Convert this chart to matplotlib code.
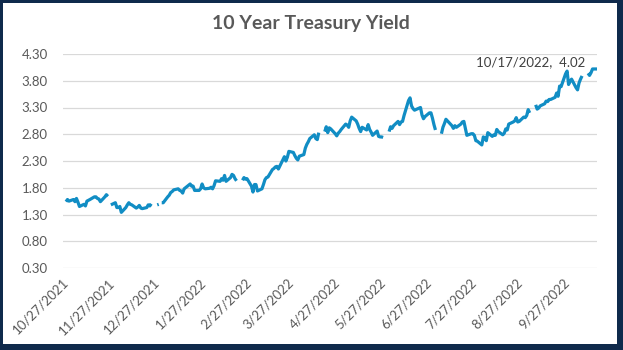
import numpy as np
import pandas as pd
import matplotlib
matplotlib.use("Agg")
import matplotlib.pyplot as plt
from matplotlib.patches import Rectangle

plt.rcParams['font.family'] = ['Lato', 'DejaVu Sans']

# trading days, holidays with no print are left as NaN (breaks the line)
start, end = '2021-10-27', '2022-10-17'
not_listed = ['2021-11-11', '2022-01-17', '2022-06-20']
nan = np.nan

yield_oct21 = [1.54, 1.58, 1.55]
yield_nov21 = [1.58, 1.54, 1.60, 1.53, 1.45,
               1.49, 1.46, 1.55, 1.58,
               1.63, 1.63, 1.60, 1.59, 1.54,
               1.63, 1.67, 1.64, nan, 1.48,
               1.52, 1.43]
yield_dec21 = [1.43, 1.45, 1.34,
               1.43, 1.48, 1.52, 1.49, 1.48,
               1.42, 1.44, 1.47, 1.42, 1.41,
               1.43, 1.48, 1.46, 1.50, nan,
               1.48, 1.49, nan, 1.52, 1.52]
yield_jan22 = [1.63, 1.66, 1.71, 1.73, 1.76,
               1.78, 1.75, 1.74, 1.70, 1.78,
               1.87, 1.83, 1.83, 1.75,
               1.75, 1.78, 1.87, 1.80, 1.78,
               1.79]
yield_feb22 = [1.81, 1.78, 1.84, 1.93,
               1.92, 1.97, 1.94, 2.03, 1.92,
               1.99, 2.05, 2.03, 1.97, 1.93,
               nan, 1.94, 1.99, 1.96, 1.97,
               1.83]
yield_mar22 = [1.72, 1.86, 1.86, 1.74,
               1.78, 1.86, 1.95, 1.99, 2.00,
               2.14, 2.16, 2.19, 2.20, 2.15,
               2.32, 2.38, 2.30, 2.37, 2.48,
               2.46, 2.40, 2.35, 2.32]
yield_apr22 = [2.39,
               2.42, 2.54, 2.61, 2.66, 2.72,
               2.79, 2.72, 2.70, 2.83, nan,
               2.85, 2.94, 2.83, 2.92, 2.90,
               2.81, 2.77, 2.82, 2.85, 2.89]
yield_may22 = [2.99, 2.97, 2.93, 3.05, 3.12,
               3.05, 2.99, 2.91, 2.85, 2.93,
               2.88, 2.98, 2.89, 2.84, 2.78,
               2.86, 2.76, 2.75, 2.75, 2.74,
               nan, 2.85]
yield_jun22 = [2.94, 2.91, 2.96,
               3.04, 2.98, 3.03, 3.04, 3.15,
               3.43, 3.48, 3.33, 3.28, 3.25,
               3.30, 3.16, 3.09, 3.13,
               3.20, 3.20, 3.10, 2.98]
yield_jul22 = [2.88,
               nan, 2.81, 2.93, 3.00, 3.08,
               2.99, 2.96, 2.91, 2.96, 2.93,
               2.99, 3.03, 3.04, 2.91, 2.78,
               2.81, 2.81, 2.78, 2.68, 2.67]
yield_aug22 = [2.60, 2.75, 2.73, 2.68, 2.83,
               2.76, 2.79, 2.78, 2.89, 2.85,
               2.79, 2.82, 2.90, 2.88, 2.99,
               3.03, 3.05, 3.11, 3.03, 3.04,
               3.12, 3.11, 3.15]
yield_sep22 = [3.26, 3.20,
               nan, 3.35, 3.27, 3.29, 3.33,
               3.37, 3.42, 3.41, 3.45, 3.45,
               3.49, 3.57, 3.51, 3.70, 3.69,
               3.93, 3.98, 3.73, 3.79, 3.83]
yield_oct22 = [3.67, 3.63, 3.76, 3.83, 3.89,
               nan, 3.94, 3.90, 3.95, 4.02,
               4.02]

yields = (yield_oct21 + yield_nov21 + yield_dec21 + yield_jan22 + yield_feb22
          + yield_mar22 + yield_apr22 + yield_may22 + yield_jun22 + yield_jul22
          + yield_aug22 + yield_sep22 + yield_oct22)

dates = pd.bdate_range(start, end)
dates = dates[~dates.isin(pd.to_datetime(not_listed))]
assert len(dates) == len(yields)

y_ticks = [0.30, 0.80, 1.30, 1.80, 2.30, 2.80, 3.30, 3.80, 4.30]
x_ticks = pd.date_range('2021-10-27', periods=12, freq=pd.DateOffset(months=1))
x_labels = [f"{d.month}/{d.day}/{d.year}" for d in x_ticks]

grey = '#595959'
navy = '#0F2A4C'
blue = '#118DC4'

fig = plt.figure(figsize=(6.23, 3.5), dpi=100)
fig.patch.set_facecolor(navy)
fig.patches.append(Rectangle((3/623, 6/350), 614/623, 341/350, transform=fig.transFigure,
                             facecolor='white', edgecolor='none', zorder=-5))

ax = fig.add_axes([63/623, 82/350, 534/623, 214/350])
ax.set_zorder(2)
ax.set_facecolor('none')
ax.plot(dates, yields, color=blue, lw=2.3, solid_joinstyle='round', solid_capstyle='butt')

ax.set_ylim(0.30, 4.30)
ax.set_yticks(y_ticks)
ax.set_yticklabels([f"{v:.2f}" for v in y_ticks])
ax.set_xlim(pd.Timestamp('2021-10-25'), pd.Timestamp('2022-10-17'))
ax.set_xticks(x_ticks)
ax.set_xticklabels(x_labels, rotation=45, ha='right', va='center', rotation_mode='anchor')
ax.grid(axis='y', color='#D9D9D9', lw=0.9)
ax.set_axisbelow(True)
for s in ax.spines.values():
    s.set_visible(False)
ax.tick_params(axis='both', length=0, colors=grey, labelsize=9.5)
ax.tick_params(axis='y', pad=11)
ax.tick_params(axis='x', pad=9)

# label on the last close
last_d, last_v = dates[-1], yields[-1]
ax.annotate(f"{last_d.month}/{last_d.day}/{last_d.year},  {last_v:.2f}",
            xy=(last_d, last_v), xytext=(-8.5, 5), textcoords='offset points',
            ha='right', va='center', color='#404040', fontsize=9.5)

fig.text(311/623, 1 - 24/350, '10 Year Treasury Yield', ha='center', va='center',
         fontsize=14, fontweight='bold', color=grey)

fig.savefig('out.png', dpi=100, facecolor=fig.get_facecolor())
